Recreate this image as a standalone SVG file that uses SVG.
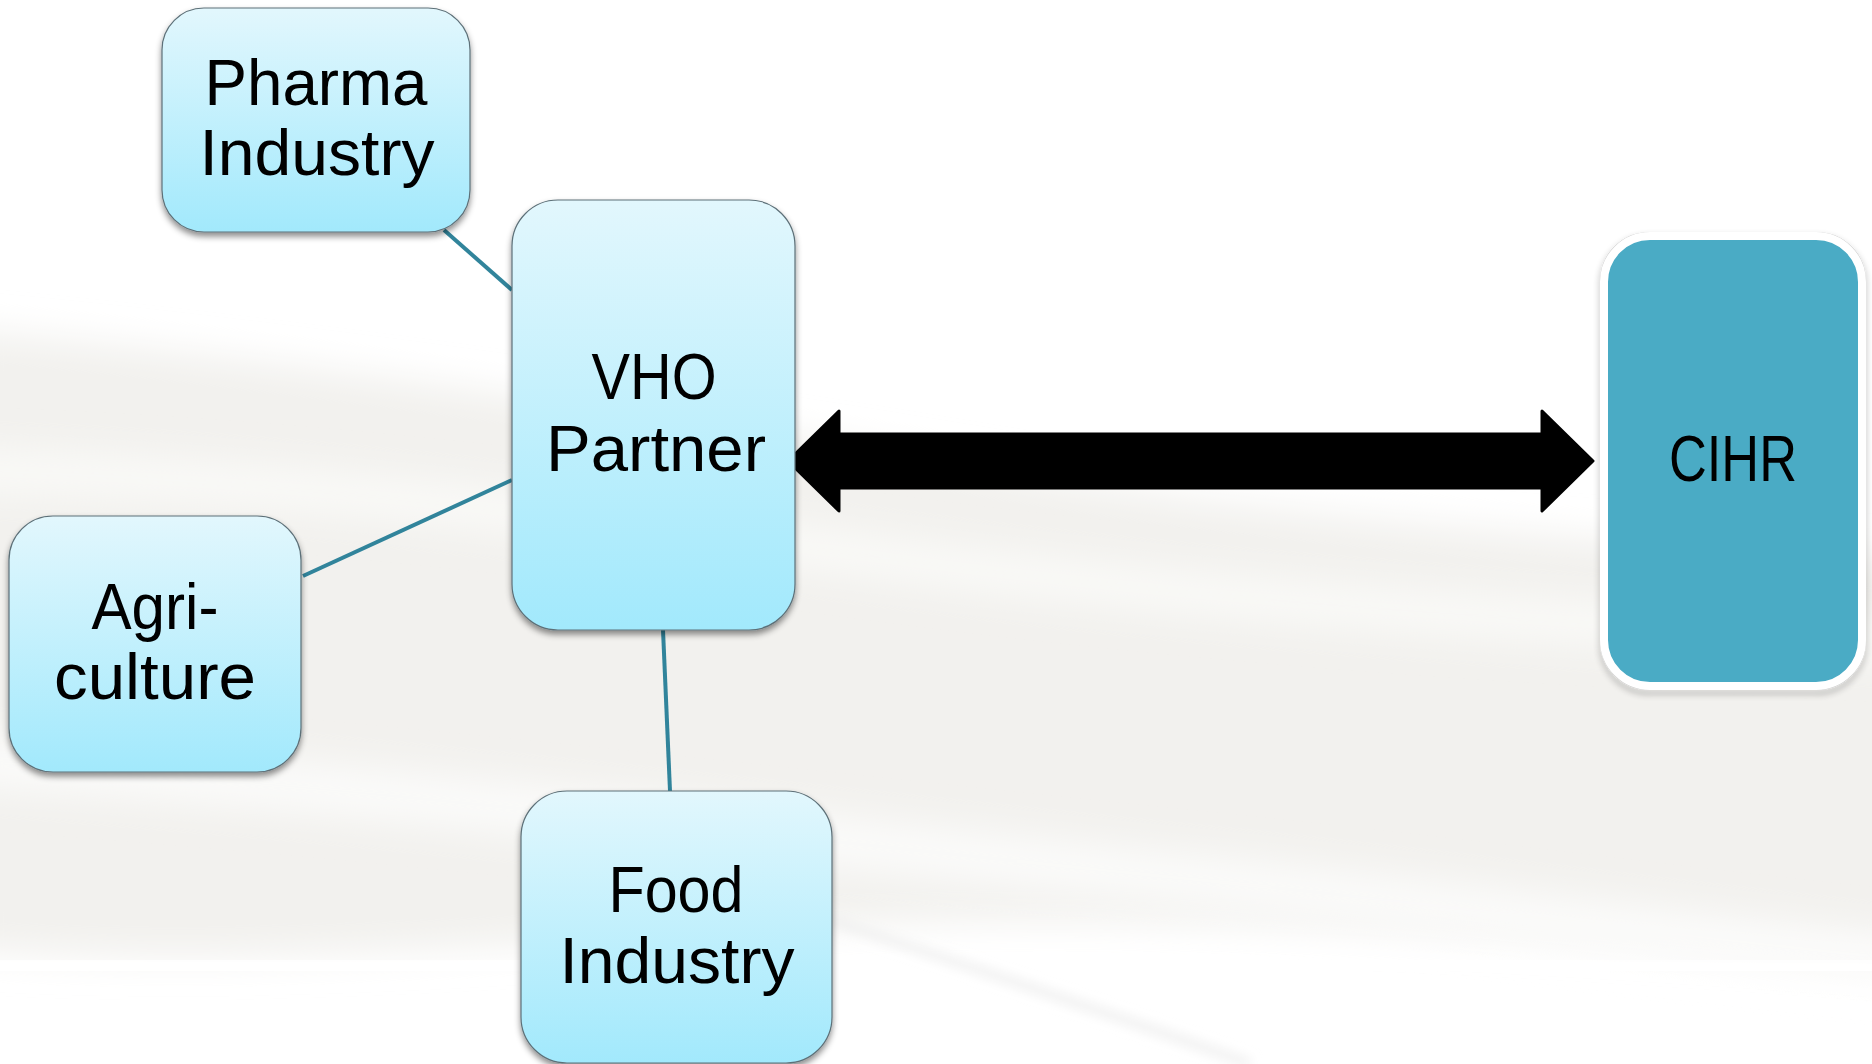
<svg xmlns="http://www.w3.org/2000/svg" width="1872" height="1064" viewBox="0 0 1872 1064">
<defs>
<linearGradient id="boxGrad" x1="0" y1="0" x2="0" y2="1">
<stop offset="0" stop-color="#E2F7FD"/>
<stop offset="1" stop-color="#A2E9FC"/>
</linearGradient>
<filter id="shadow" x="-10%" y="-10%" width="120%" height="120%">
<feDropShadow dx="0" dy="4" stdDeviation="3" flood-color="#000" flood-opacity="0.45"/>
</filter>
<filter id="blur" x="-20%" y="-50%" width="140%" height="200%">
<feGaussianBlur stdDeviation="18"/>
</filter>
<filter id="blur2" x="-20%" y="-50%" width="140%" height="200%">
<feGaussianBlur stdDeviation="6"/>
</filter>
<style>
.box{fill:url(#boxGrad);stroke:#5d7078;stroke-width:1.2;filter:url(#shadow);}
.lbl{font-family:"Liberation Sans",Arial,sans-serif;font-size:64px;fill:#000;text-anchor:middle;}
.conn{stroke:#31849B;stroke-width:4;fill:none;}
</style>
</defs>
<g id="background">
<rect x="0" y="0" width="1872" height="1064" fill="#ffffff"/>
<path d="M-40,330 C300,360 700,420 1000,470 C1300,520 1600,540 1912,560 L1912,960 C1500,930 1000,900 600,940 C300,960 100,960 -40,950 Z" fill="#f2f1ee" filter="url(#blur)"/>
<path d="M-40,470 C300,480 600,520 900,560 C1200,600 1500,620 1912,640" stroke="#fafaf8" stroke-width="40" fill="none" filter="url(#blur)"/>
<path d="M-40,760 C400,790 800,840 1200,880 C1500,910 1700,940 1912,960" stroke="#fbfbfa" stroke-width="50" fill="none" filter="url(#blur)"/>
<path d="M-40,965 C500,962 1200,962 1912,968" stroke="#ffffff" stroke-width="22" fill="none" filter="url(#blur2)"/>
<path d="M830,920 C950,960 1100,1010 1250,1064" stroke="#eeeeee" stroke-width="8" fill="none" filter="url(#blur2)"/>
</g>
<g id="connectors">
<line class="conn" x1="444" y1="230" x2="512" y2="290"/>
<line class="conn" x1="303" y1="576" x2="512" y2="480"/>
<line class="conn" x1="663" y1="630" x2="670" y2="791"/>
<path id="arrow" d="M788,461 L839,411 L839,434 L1542,434 L1542,411 L1593,461 L1542,511 L1542,488 L839,488 L839,511 Z" fill="#000" stroke="#000" stroke-width="3" stroke-linejoin="round"/>
</g>
<g id="pharma">
<rect class="box" x="162" y="8" width="308" height="224" rx="42" ry="42"/>
<text class="lbl" x="316" y="104.5" textLength="223" lengthAdjust="spacingAndGlyphs">Pharma</text>
<text class="lbl" x="317" y="175" textLength="235" lengthAdjust="spacingAndGlyphs">Industry</text>
</g>
<g id="vho">
<rect class="box" x="512" y="200" width="283" height="430" rx="46" ry="46"/>
<text class="lbl" x="654" y="399" textLength="125" lengthAdjust="spacingAndGlyphs">VHO</text>
<text class="lbl" x="656" y="471" textLength="220" lengthAdjust="spacingAndGlyphs">Partner</text>
</g>
<g id="agri">
<rect class="box" x="9" y="516" width="292" height="256" rx="44" ry="44"/>
<text class="lbl" x="155" y="629" textLength="127" lengthAdjust="spacingAndGlyphs">Agri-</text>
<text class="lbl" x="155" y="699" textLength="202" lengthAdjust="spacingAndGlyphs">culture</text>
</g>
<g id="food">
<rect class="box" x="521" y="791" width="311" height="272" rx="46" ry="46"/>
<text class="lbl" x="676" y="912" textLength="135" lengthAdjust="spacingAndGlyphs">Food</text>
<text class="lbl" x="677" y="983" textLength="235" lengthAdjust="spacingAndGlyphs">Industry</text>
</g>
<g id="cihr">
<rect x="1601" y="233" width="264" height="456" rx="48" ry="48" fill="none" stroke="#d0d0d0" stroke-width="2" filter="url(#shadow)"/>
<rect x="1604" y="236" width="258" height="450" rx="46" ry="46" fill="#4AABC5" stroke="#ffffff" stroke-width="8"/>
<text class="lbl" x="1733" y="481" font-size="60" textLength="128" lengthAdjust="spacingAndGlyphs">CIHR</text>
</g>
</svg>
